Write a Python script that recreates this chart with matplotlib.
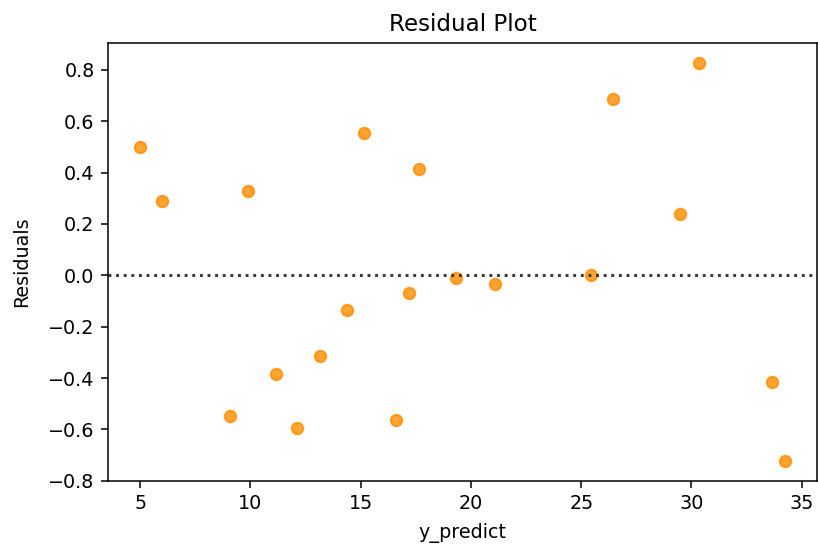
import matplotlib
matplotlib.use("Agg")
import matplotlib.pyplot as plt

# predicted values and residuals
y_predict = [5.00, 5.97, 9.91, 15.16, 17.66, 17.17, 19.30, 21.09, 30.36, 26.42,
             29.49, 25.46, 9.05, 12.11, 11.15, 13.16, 14.39, 16.61, 33.66, 34.23]
residuals = [0.500, 0.289, 0.327, 0.555, 0.413, -0.069, -0.012, -0.035, 0.827, 0.685,
             0.238, 0.002, -0.547, -0.595, -0.383, -0.315, -0.134, -0.563, -0.417, -0.723]

dpi = 138
fig = plt.figure(figsize=(818 / dpi, 546 / dpi), dpi=dpi)
ax = fig.add_axes([108 / 818, 1 - 481 / 546, (817 - 108) / 818, (481 - 43) / 546])

ax.scatter(y_predict, residuals, color="darkorange", alpha=0.8, s=36, linewidths=1)
ax.axhline(0, ls=":", c=".2")

ax.set_title("Residual Plot")
ax.set_xlabel("y_predict", labelpad=5)
ax.set_ylabel("Residuals", labelpad=9)

fig.savefig("out.png", dpi=dpi)
